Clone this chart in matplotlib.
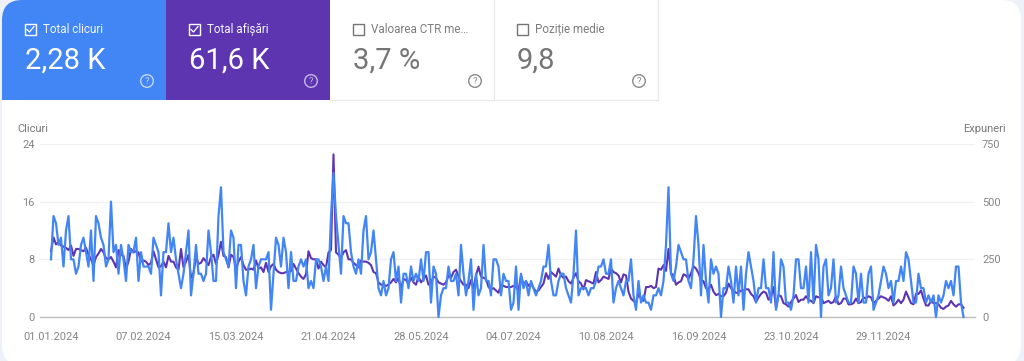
import matplotlib
matplotlib.use("Agg")
import matplotlib.pyplot as plt
import pandas as pd
from matplotlib.patches import FancyBboxPatch, PathPatch, Rectangle, Circle
from matplotlib.path import Path

plt.rcParams['font.family'] = ['Roboto', 'DejaVu Sans']

clicks = [
    8,14,13,10,11,7,12,14,8,8, 6,7,10,11,9,7,12,5,14,13,
    11,10,7,8,16,9,10,6,10,8, 5,10,9,9,11,5,9,7,7,7,
    6,11,10,9,3,9,9,13,9,11, 8,6,4,6,9,12,3,6,10,6,
    6,5,6,12,9,5,5,14,18,9, 8,7,12,11,4,10,10,5,3,7,
    8,10,4,7,8,8,8,9,1,6, 11,10,7,11,9,4,9,5,5,7,
    8,7,8,4,5,4,8,8,7,5, 7,5,14,20,14,10,6,14,13,13,
    9,7,6,8,6,12,14,8,9,12, 8,4,3,5,3,4,8,9,5,7,
    2,6,6,4,7,5,6,5,8,5, 9,9,2,7,6,0,3,4,4,7,
    5,5,6,3,10,6,3,5,8,1, 6,3,4,10,5,5,3,8,8,7,
    3,6,5,5,1,2,7,1,6,4, 5,3,5,4,3,4,5,7,7,10,
    5,3,3,5,6,6,4,3,2,6, 12,3,4,4,4,3,4,4,5,7,
    7,8,6,6,8,2,4,5,4,3, 5,5,8,3,1,5,2,3,2,2,
    1,3,3,4,3,5,10,18,6,5, 7,10,9,8,8,5,4,8,14,10,
    3,10,5,2,8,6,7,6,0,4, 4,7,5,2,7,3,7,1,6,9,
    7,5,2,4,4,8,4,4,2,9, 1,3,8,7,2,2,1,3,8,8,
    4,4,7,2,9,2,10,8,0,7, 8,3,4,8,2,3,7,4,3,2,
    2,7,6,2,6,2,2,6,7,1, 2,3,5,7,6,4,5,2,5,5,
    7,5,9,8,5,2,2,6,4,4, 2,3,2,3,0,3,2,3,5,4,
    5,3,7,7,2,0,
]
impressions = [
    285,345,315,325,310,305,300,290,310,265, 295,295,290,285,300,270,250,225,260,275,
    295,280,255,250,260,240,215,290,270,265, 210,240,295,280,285,280,240,245,240,225,
    235,285,250,215,220,240,215,265,240,240, 215,205,295,215,240,270,170,190,260,230,
    235,255,240,225,260,270,230,270,326,265, 260,215,270,260,210,240,260,225,205,205,
    210,205,245,210,215,195,235,195,220,230, 205,195,190,190,195,195,200,230,210,190,
    175,165,185,285,255,250,250,210,240,225, 215,280,290,705,280,270,255,280,290,250,
    250,235,225,215,245,240,240,235,225,195, 190,150,140,140,135,140,150,165,150,170,
    120,165,160,145,170,150,140,175,150,165, 180,140,150,175,170,150,145,140,150,180,
    170,195,205,175,155,140,140,125,160,125, 180,218,175,170,165,130,120,125,115,105,
    140,135,130,130,130,135,130,115,180,140, 155,135,145,125,110,115,130,145,190,165,
    195,185,175,210,180,170,175,155,145,170, 190,155,145,120,160,155,150,145,195,150,
    160,175,170,165,210,195,190,180,150,185, 180,110,80,70,60,100,80,70,130,130,
    135,125,130,210,205,225,200,295,190,180, 140,150,155,185,180,165,190,220,210,190,
    160,155,125,120,140,110,95,100,90,90, 105,145,125,115,105,105,115,115,120,120,
    100,90,65,85,100,110,105,75,85,130, 40,95,90,60,55,45,65,80,95,65,
    75,75,90,75,70,60,90,85,90,60, 65,70,60,65,90,55,60,80,80,55,
    55,60,80,60,65,85,80,90,85,60, 70,80,90,85,80,70,90,50,60,75,
    60,75,110,85,60,55,100,100,115,80, 50,50,70,60,60,55,40,35,45,50,
    70,55,45,55,55,40,
]
dates = pd.date_range('2024-01-01', periods=len(clicks), freq='D')
tick_labels = ['01.01.2024','07.02.2024','15.03.2024','21.04.2024','28.05.2024',
               '04.07.2024','10.08.2024','16.09.2024','23.10.2024','29.11.2024']
clicks_ticks = [0, 8, 16, 24]
impressions_ticks = [0, 250, 500, 750]
card_titles = ['Total clicuri', 'Total afișări', 'Valoarea CTR me…', 'Poziție medie']
card_values = ['2,28 K', '61,6 K', '3,7 %', '9,8']

BLUE = '#4285f4'
PURPLE = '#5e35b1'
W, H = 1024, 361
fig = plt.figure(figsize=(W/100, H/100), dpi=100, facecolor='#eef2f8')

bg = fig.add_axes([0, 0, 1, 1], zorder=0)
bg.set_xlim(0, W); bg.set_ylim(H, 0); bg.axis('off')
bg.add_patch(FancyBboxPatch((2, 0), 1019, 365, boxstyle='round,pad=0,rounding_size=20',
                            fc='white', ec='none'))
bg.add_patch(PathPatch(Path([(2,100),(2,20),(2,0),(22,0),(166,0),(166,100),(2,100)],
                            [Path.MOVETO,Path.LINETO,Path.CURVE3,Path.CURVE3,Path.LINETO,Path.LINETO,Path.CLOSEPOLY]),
                       fc=BLUE, ec='none'))
bg.add_patch(Rectangle((166, 0), 164, 100, fc=PURPLE, ec='none'))
bg.plot([330, 658, 658], [100, 100, 0], color='#e6e8eb', lw=0.9)
bg.plot([494, 494], [0, 100], color='#e6e8eb', lw=0.9)

for i, (t, v) in enumerate(zip(card_titles, card_values)):
    x0 = 2 + 164*i
    selected = i < 2
    c = 'white' if selected else '#757575'
    bg.add_patch(Rectangle((x0+22.5, 23.5), 11.5, 11.5, fc='none', ec=c, lw=1.0))
    if selected:
        bg.plot([x0+25, x0+27.5, x0+32], [29.5, 32, 26.5], color=c, lw=0.9)
    bg.text(x0+41, 29.5, t, color='#f4f6fb' if selected else '#7d7d7d', fontsize=8.4, va='center', ha='left')
    bg.text(x0+23, 60.5, v, color=c, fontsize=21, va='center', ha='left')
    qc = '#c5d6f8' if i == 0 else ('#c6b7e3' if i == 1 else '#8a8a8a')
    bg.add_patch(Circle((x0+145, 81), 6.3, fc='none', ec=qc, lw=1.0))
    bg.text(x0+145, 81.3, '?', color=qc, fontsize=6.8, va='center', ha='center')

bg.text(17, 129, 'Clicuri', color='#777777', fontsize=7.9, va='center', ha='left')
bg.text(1006, 129, 'Expuneri', color='#777777', fontsize=8.0, va='center', ha='right')

L, R, T, B = 40, 975, 144, 317
ax2 = fig.add_axes([L/W, 1-B/H, (R-L)/W, (B-T)/H], zorder=1)
ax = ax2.twinx()
ax.set_zorder(2)
ax2.patch.set_visible(False); ax.patch.set_visible(False)

ax2.plot(dates, impressions, color=PURPLE, lw=1.5, solid_joinstyle='round')
ax.plot(dates, clicks, color=BLUE, lw=1.6, solid_joinstyle='round', clip_on=False)

xmin = pd.Timestamp('2024-01-01') - pd.Timedelta(hours=4.4*24)
xmax = pd.Timestamp('2024-01-01') + pd.Timedelta(hours=369.6*24)
ax2.set_xlim(xmin, xmax)
ax.set_ylim(0, 24); ax2.set_ylim(0, 750)

ax2.set_xticks(pd.to_datetime(tick_labels, format='%d.%m.%Y'))
ax2.set_xticklabels(tick_labels)
ax2.yaxis.tick_right()
ax.yaxis.tick_left()
ax.set_yticks(clicks_ticks); ax2.set_yticks(impressions_ticks)
ax.tick_params(axis='y', length=0, pad=3.7, labelsize=7.9, labelcolor='#858585')
ax2.tick_params(axis='y', length=0, pad=5, labelsize=7.9, labelcolor='#858585')
ax2.tick_params(axis='x', length=0, pad=11, labelsize=7.9, labelcolor='#858585')
ax2.grid(axis='y', color='#f0f0f0', lw=0.9)
ax2.set_axisbelow(True)
for a in (ax, ax2):
    for s in a.spines.values():
        s.set_visible(False)
ax2.spines['bottom'].set_visible(True)
ax2.spines['bottom'].set_color('#bdbdbd')
ax2.spines['bottom'].set_linewidth(1.0)

fig.savefig('out.png', dpi=100, facecolor=fig.get_facecolor())
